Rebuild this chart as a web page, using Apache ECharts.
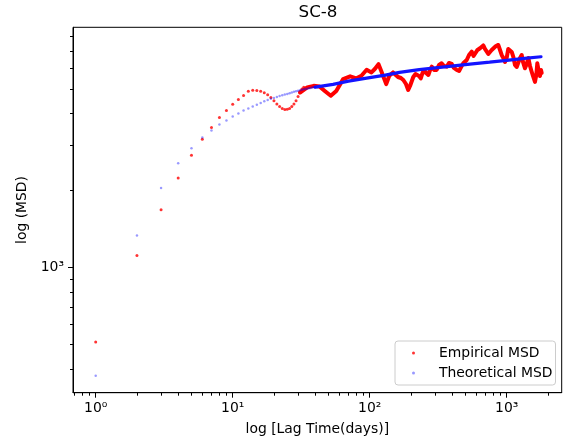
<!DOCTYPE html>
<html>
<head>
<meta charset="utf-8">
<script src="https://cdn.jsdelivr.net/npm/echarts@6/dist/echarts.min.js"></script>
<style>
html,body{margin:0;padding:0;background:#fff;}
#chart{width:563px;height:444px;}
</style>
</head>
<body>
<div id="chart"></div>
<script>
// ---- data ----
const titleText = 'SC-8';
const xName = 'log [Lag Time(days)]';
const yName = 'log (MSD)';
const seriesNames = ['Empirical MSD', 'Theoretical MSD'];

// Empirical MSD: individually visible dots (lag 1..33 days)
const empX = [1,2,3,4,5,6,7,8,9,10,11,12,13,14,15,16,17,18,19,20,21,22,23,24,25,26,27,28,29,30,31,32,33];
const empY = [511,1114,1684,2240,2750,3177,3530,3860,4120,4350,4540,4710,4890,4940,4930,4890,4830,4740,4630,4490,
              4360,4270,4190,4150,4160,4190,4270,4360,4490,4670,4840,4990,5080];

// Empirical MSD: dense part (dots merge into a thick, noisy band)
const empDenseX = [31,35,39,43,47,52,57,64,72,80,87,95,103,109,116,124,132,139,148,
                   161,169,176,184,191,197,208,216,223,229,236,243,249,258,268,276,284,295,308,321,335,349,365,379,
                   397,412,432,449,469,482,511,531,555,573,587,612,639,675,694,715,734,755,777,798,835,868,894,919,
                   945,972,1000,1027,1057,1088,1118,1150,1183,1215,1251,1287,1315,1360,1400,1438,1480,1522,1556,1609,
                   1645,1673,1707,1750,1780,1801];
const empDenseY = [4840,5070,5140,5110,4910,4700,4910,5460,5600,5500,5630,5940,5800,5980,6250,5710,5220,5630,5800,
                   5566,5516,5418,5226,4951,5133,5566,5717,5785,5617,5501,5770,5929,5770,5667,5929,6108,5929,5929,6203,
                   6298,6146,6108,6316,6259,6037,5929,5876,6146,6298,6488,6787,6992,6726,6787,7101,7210,7396,7165,7101,
                   6849,6787,7101,7210,7362,7429,7101,6787,6607,6373,6607,7165,7295,6973,6667,6203,6092,6146,6607,6787,
                   6373,6020,6259,6607,6146,5838,5617,5322,5667,6298,5929,5617,5929,5770];

// Theoretical MSD: individually visible dots (lag 1..40 days)
const theoX = [1,2,3,4,5,6,7,8,9,10,11,12,13,14,15,16,17,18,19,20,21,22,23,24,25,26,27,28,29,30,
               31,32,33,34,35,36,37,38,39,40];
const theoY = [377,1335,2046,2557,2930,3226,3440,3630,3760,3900,4010,4120,4190,4270,4330,4400,4470,4520,4570,4610,
               4650,4690,4720,4750,4780,4810,4840,4870,4900,4920,4940,4960,4980,5000,5010,5030,5040,5060,5070,5080];

// Theoretical MSD: dense part
const theoDenseX = [40,54,70,95,130,165,230,326,539,750,1000,1350,1780];
const theoDenseY = [5080,5210,5360,5510,5660,5800,5950,6070,6250,6360,6470,6580,6680];

// axis ticks and labels
const xMajorTicks = [1,10,100,1000];
const xTickLabels = ['10\u2070','10\u00b9','10\u00b2','10\u00b3'];
const xMinorTicks = [0.7,0.8,0.9,2,3,4,5,6,7,8,9,20,30,40,50,60,70,80,90,200,300,400,500,600,700,800,900,2000];
const yMajorTicks = [1000];
const yTickLabels = ['10\u00b3'];
const yMinorTicks = [400,500,600,700,800,900,2000,3000,4000,5000,6000,7000,8000];

const xRange = [0.6826, 2521];
const yRange = [323.6, 8710];

// ---- chart ----
const FONT = 'DejaVu Sans';
const pairs = (xs, ys) => xs.map((x, i) => [x, ys[i]]);
const labelFor = (ticks, labels) => (v) => {
  for (let i = 0; i < ticks.length; i++) {
    if (Math.abs(v - ticks[i]) / ticks[i] < 1e-6) return labels[i];
  }
  return '';
};

const baseAxis = (type) => ({
  type: 'log',
  logBase: 10,
  min: type === 'x' ? xRange[0] : yRange[0],
  max: type === 'x' ? xRange[1] : yRange[1],
  splitLine: { show: false },
  minorTick: { show: false },
  minorSplitLine: { show: false }
});

const chart = echarts.init(document.getElementById('chart'), null, { renderer: 'canvas' });
chart.setOption({
  animation: false,
  backgroundColor: '#ffffff',
  title: {
    text: titleText,
    left: 318,
    top: 4,
    padding: 0,
    textAlign: 'center',
    textStyle: { fontFamily: FONT, fontSize: 16.7, fontWeight: 'normal', color: '#000' }
  },
  grid: {
    left: 73, right: 1.3, top: 27.3, bottom: 51.3,
    show: true, borderColor: '#000', borderWidth: 1, backgroundColor: 'transparent'
  },
  legend: {
    orient: 'vertical',
    left: 395,
    top: 341,
    padding: [4, 3, 4, 17],
    itemWidth: 3,
    itemHeight: 3,
    itemGap: 4,
    backgroundColor: 'rgba(255,255,255,0.8)',
    borderColor: '#cccccc',
    borderWidth: 1,
    borderRadius: 3,
    selectedMode: false,
    textStyle: { fontFamily: FONT, fontSize: 13.9, color: '#000', padding: [0, 0, 0, 19], lineHeight: 16 },
    data: [
      { name: seriesNames[0], icon: 'circle', itemStyle: { color: '#ff0000' } },
      { name: seriesNames[1], icon: 'circle', itemStyle: { color: 'rgba(0,0,255,0.5)' } }
    ]
  },
  xAxis: [
    Object.assign(baseAxis('x'), {
      position: 'bottom',
      name: xName,
      nameLocation: 'middle',
      nameGap: 30,
      nameTextStyle: { fontFamily: FONT, fontSize: 13.9, color: '#000' },
      axisLine: { show: true, lineStyle: { color: '#000', width: 1 } },
      axisTick: { show: true, length: 5, lineStyle: { color: '#000', width: 1 }, customValues: xMajorTicks },
      axisLabel: {
        show: true, margin: 9, fontFamily: FONT, fontSize: 13.9, color: '#000',
        customValues: xMajorTicks, formatter: labelFor(xMajorTicks, xTickLabels)
      }
    }),
    Object.assign(baseAxis('x'), {
      position: 'bottom',
      axisLine: { show: false },
      axisTick: { show: true, length: 3, lineStyle: { color: '#000', width: 1 }, customValues: xMinorTicks },
      axisLabel: { show: false }
    })
  ],
  yAxis: [
    Object.assign(baseAxis('y'), {
      position: 'left',
      name: yName,
      nameLocation: 'middle',
      nameGap: 37,
      nameTextStyle: { fontFamily: FONT, fontSize: 13.9, color: '#000' },
      axisLine: { show: true, lineStyle: { color: '#000', width: 1 } },
      axisTick: { show: true, length: 5, lineStyle: { color: '#000', width: 1 }, customValues: yMajorTicks },
      axisLabel: {
        show: true, margin: 9, fontFamily: FONT, fontSize: 13.9, color: '#000',
        customValues: yMajorTicks, formatter: labelFor(yMajorTicks, yTickLabels)
      }
    }),
    Object.assign(baseAxis('y'), {
      position: 'left',
      axisLine: { show: false },
      axisTick: { show: true, length: 3, lineStyle: { color: '#000', width: 1 }, customValues: yMinorTicks },
      axisLabel: { show: false }
    })
  ],
  series: [
    {
      name: seriesNames[0], type: 'scatter', xAxisIndex: 0, yAxisIndex: 0,
      symbol: 'circle', symbolSize: 3,
      itemStyle: { color: '#ff0000' },
      data: pairs(empX, empY), z: 2
    },
    {
      name: seriesNames[0], type: 'line', xAxisIndex: 0, yAxisIndex: 0,
      showSymbol: false, symbol: 'none',
      lineStyle: { color: '#ff0000', width: 4, join: 'round', cap: 'round' },
      itemStyle: { color: '#ff0000' },
      data: pairs(empDenseX, empDenseY), z: 2
    },
    {
      name: seriesNames[1], type: 'scatter', xAxisIndex: 0, yAxisIndex: 0,
      symbol: 'circle', symbolSize: 2.5,
      itemStyle: { color: 'rgba(0,0,255,0.5)' },
      data: pairs(theoX, theoY), z: 3
    },
    {
      name: seriesNames[1], type: 'line', xAxisIndex: 0, yAxisIndex: 0,
      showSymbol: false, symbol: 'none',
      lineStyle: { color: '#1414ff', width: 3.2, cap: 'round' },
      itemStyle: { color: 'rgba(0,0,255,0.5)' },
      data: pairs(theoDenseX, theoDenseY), z: 3
    }
  ]
});
</script>
</body>
</html>
